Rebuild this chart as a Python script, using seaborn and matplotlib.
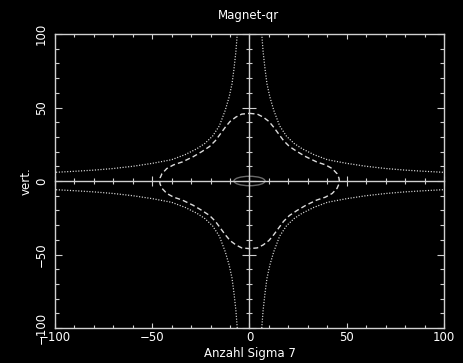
import numpy as np
import pandas as pd
import matplotlib
matplotlib.use("Agg")
import matplotlib.pyplot as plt
from matplotlib.patches import Ellipse
import seaborn as sns

# --- data -------------------------------------------------------------
# first-quadrant branch of the outer (dotted) contour
outer_x = [6.3, 7.0, 8.0, 9.0, 10.5, 12.5, 15.5, 19.0, 23.0, 27.0, 33.0,
           40.0, 50.0, 60.0, 70.0, 80.0, 90.0, 100.0]
outer_y = [100.0, 88.0, 76.0, 66.0, 57.0, 48.0, 37.5, 30.5, 25.5, 22.0, 18.0,
           14.5, 12.0, 10.0, 8.5, 7.4, 6.6, 5.9]

# first-quadrant arc of the closed (dashed) contour, from the y axis to the x axis
inner_x = [0.0, 4.0, 7.0, 10.0, 12.5, 15.0, 17.5, 20.5, 24.5, 29.0, 34.5,
           39.0, 42.5, 45.0, 46.0, 46.2]
inner_y = [46.0, 45.5, 43.5, 40.5, 36.5, 32.0, 27.5, 23.5, 20.0, 16.5, 13.0,
           11.0, 8.5, 5.0, 2.0, 0.0]

# beam ellipse at the centre
beam_center = (0.0, 0.0)
beam_half_x = 8.0
beam_half_y = 3.2

title = "Magnet-qr"
x_label = "Anzahl Sigma 7"
y_label = "vert."
tick_values = [-100, -50, 0, 50, 100]
tick_labels = ["\u2212100", "\u221250", "0", "50", "100"]
minor_values = [v for v in range(-90, 100, 10) if v % 50 != 0]

# --- build curves -----------------------------------------------------
quadrants = [(1, 1), (-1, 1), (-1, -1), (1, -1)]
outer_frames = []
for k, (sx, sy) in enumerate(quadrants):
    outer_frames.append(pd.DataFrame({
        "x": [sx * v for v in outer_x],
        "y": [sy * v for v in outer_y],
        "branch": k,
    }))
outer = pd.concat(outer_frames, ignore_index=True)

# closed contour: walk the four quadrants in order
ix, iy = [], []
ix += list(inner_x); iy += list(inner_y)                                  # Q1: top -> right
ix += list(inner_x[::-1]); iy += [-v for v in inner_y[::-1]]              # Q4: right -> bottom
ix += [-v for v in inner_x]; iy += [-v for v in inner_y]                  # Q3: bottom -> left
ix += [-v for v in inner_x[::-1]]; iy += list(inner_y[::-1])              # Q2: left -> top
inner = pd.DataFrame({"x": ix, "y": iy, "order": range(len(ix))})

# --- style ------------------------------------------------------------
sns.set_theme(style="dark")
plt.rcParams.update({
    "figure.facecolor": "black",
    "axes.facecolor": "black",
    "savefig.facecolor": "black",
    "axes.edgecolor": "#d0d0d0",
    "text.color": "white",
    "axes.labelcolor": "white",
    "xtick.color": "#d0d0d0",
    "ytick.color": "#d0d0d0",
    "lines.scale_dashes": False,
})
plt.rcParams["font.family"] = ["DejaVu Sans"]

fig = plt.figure(figsize=(4.64, 3.63), dpi=100)
pos = [55 / 464, 1 - 328 / 363, (444 - 55) / 464, (328 - 34) / 363]
ax = fig.add_axes(pos)

line_col = "#dcdcdc"
for b, grp in outer.groupby("branch"):
    sns.lineplot(data=grp, x="x", y="y", sort=False, estimator=None, ax=ax,
                 color=line_col, lw=0.9, linestyle=(0, (0.8, 1.2)), legend=False)
sns.lineplot(data=inner, x="x", y="y", sort=False, estimator=None, ax=ax,
             color=line_col, lw=1.0, linestyle=(0, (3.6, 2.2)), legend=False)

ax.add_patch(Ellipse(beam_center, 2 * beam_half_x, 2 * beam_half_y,
                     fill=False, edgecolor="#6a6a6a", lw=1.0))

ax.set_xlim(-100, 100)
ax.set_ylim(-100, 100)
for s in ax.spines.values():
    s.set_visible(True)
    s.set_color("#d0d0d0")
    s.set_linewidth(1.0)

ax.set_xticks(tick_values)
ax.set_xticklabels(tick_labels, fontsize=8.5, color="white")
ax.set_yticks(tick_values)
ax.set_yticklabels(tick_labels, fontsize=8.5, color="white", rotation=90, va="center")
ax.set_xticks(minor_values, minor=True)
ax.set_yticks(minor_values, minor=True)
ax.tick_params(axis="x", which="major", direction="in", length=3.6, width=0.8,
               top=True, bottom=True, pad=2)
ax.tick_params(axis="x", which="minor", direction="in", length=1.9, width=0.8,
               top=True, bottom=True)
ax.tick_params(axis="y", which="major", direction="in", length=4.8, width=0.8,
               left=True, right=True, pad=5)
ax.tick_params(axis="y", which="minor", direction="in", length=2.9, width=0.8,
               left=True, right=True)
ax.grid(False)
ax.set_xlabel(x_label, fontsize=8.5, labelpad=2)
ax.set_ylabel(y_label, fontsize=8.5, labelpad=2)

# zero axes with crossing ticks
ax0 = fig.add_axes(pos, sharex=ax, sharey=ax)
ax0.patch.set_visible(False)
ax0.spines["left"].set_position("zero")
ax0.spines["bottom"].set_position("zero")
ax0.spines["top"].set_visible(False)
ax0.spines["right"].set_visible(False)
for side in ("left", "bottom"):
    ax0.spines[side].set_color("#d0d0d0")
    ax0.spines[side].set_linewidth(1.0)
ax0.tick_params(axis="x", which="major", direction="inout", length=7.2, width=0.8,
                bottom=True, labelbottom=False, top=False)
ax0.tick_params(axis="x", which="minor", direction="inout", length=4.3, width=0.8,
                bottom=True, top=False)
ax0.tick_params(axis="y", which="major", direction="inout", length=10, width=0.8,
                left=True, labelleft=False, right=False)
ax0.tick_params(axis="y", which="minor", direction="inout", length=5, width=0.8,
                left=True, right=False)
ax0.set_xlabel("")
ax0.set_ylabel("")
ax0.grid(False)

fig.text(249 / 464, 1 - 15 / 363, title, ha="center", va="center",
         fontsize=8.5, color="white")

fig.savefig("out.png", dpi=100)
